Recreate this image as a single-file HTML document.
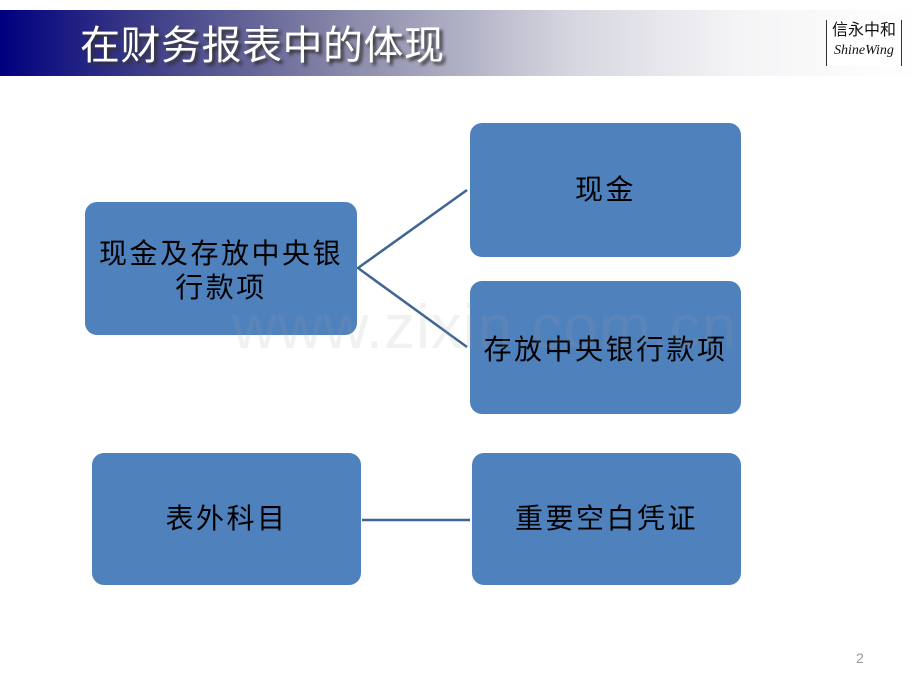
<!DOCTYPE html>
<html><head><meta charset="utf-8"><style>
body{margin:0;width:920px;height:690px;background:#fff;position:relative;overflow:hidden;font-family:"Liberation Sans","Noto Sans CJK SC",sans-serif;}
.hdr{position:absolute;left:0;top:10px;width:920px;height:66px;background:linear-gradient(90deg,#00007f 0%,#3a3a86 15%,#8a8aaa 38%,#d6d6e0 62%,#f4f4f6 80%,#fff 100%);}
.title{position:absolute;left:80px;top:20px;font-size:40px;letter-spacing:0.5px;color:#fff;text-shadow:3px 3px 3px #333;line-height:52px;}
.logo{position:absolute;left:826px;top:20px;width:74px;height:46px;border-left:1px solid #333;border-right:1px solid #333;background:#fff;text-align:center;font-size:16px;line-height:22px;color:#111;}
.logo i{font-family:"Liberation Serif",serif;font-size:14px;display:block;line-height:18px;}
.box{position:absolute;background:#4f81bd;border-radius:12px;display:flex;align-items:center;justify-content:center;text-align:center;font-size:28px;letter-spacing:2.5px;line-height:34px;color:#000;font-family:"Liberation Sans","Noto Sans CJK SC",sans-serif;}
.wm{position:absolute;left:232px;top:292px;font-size:62px;color:rgba(160,160,160,0.15);letter-spacing:1px;}
.pn{position:absolute;left:856px;top:650px;font-size:14px;color:#999;}
</style></head><body>
<div class="hdr"></div>
<div class="title">在财务报表中的体现</div>
<div class="logo">信永中和<i>ShineWing</i></div>
<svg width="920" height="690" style="position:absolute;left:0;top:0">
<polyline points="467,190 358,268 467,347" fill="none" stroke="#3f6592" stroke-width="2.5"/>
<line x1="362" y1="520" x2="470" y2="520" stroke="#3f6592" stroke-width="2.5"/>
</svg>
<div class="box" style="left:85px;top:202px;width:272px;height:133px;padding-top:4px;box-sizing:border-box;">现金及存放中央银<br>行款项</div>
<div class="box" style="left:470px;top:123px;width:271px;height:134px;">现金</div>
<div class="box" style="left:470px;top:281px;width:271px;height:133px;padding-top:4px;box-sizing:border-box;">存放中央银行款项</div>
<div class="box" style="left:92px;top:453px;width:269px;height:132px;">表外科目</div>
<div class="box" style="left:472px;top:453px;width:269px;height:132px;">重要空白凭证</div>
<div class="wm">www.zixin.com.cn</div>
<div class="pn">2</div>
</body></html>
